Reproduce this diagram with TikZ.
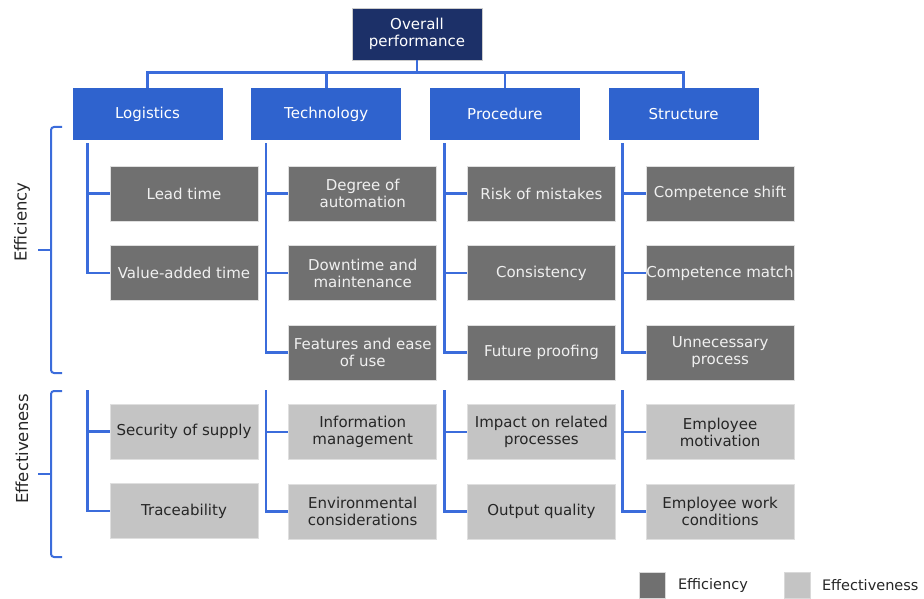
\documentclass[tikz,border=0pt]{standalone}
\usepackage{fontspec}
\setmainfont{DejaVu Sans}
\usepackage{tikz}
\usetikzlibrary{calc,positioning}
\definecolor{navy}{HTML}{1C3068}
\definecolor{catblue}{HTML}{2F63CE}
\definecolor{linkblue}{HTML}{3B6CDB}
\definecolor{effcgray}{HTML}{707070}
\definecolor{efftgray}{HTML}{C4C4C4}
\tikzstyle{overall}=[rectangle, fill=navy, draw=gray!40, line width=0.6pt,
                     text=white, minimum width=130pt, minimum height=52pt,
                     align=center, inner sep=0pt,
                     font=\fontsize{15}{17}\selectfont]
\tikzstyle{cat}    =[rectangle, fill=catblue, text=white,
                     minimum width=150pt, minimum height=52pt,
                     inner sep=0pt, font=\fontsize{15}{17}\selectfont]
\tikzstyle{effc}   =[rectangle, fill=effcgray, draw=gray!25, line width=0.8pt,
                     text=white!94!black, minimum width=148pt,
                     minimum height=55pt, align=center, inner sep=0pt,
                     font=\fontsize{15}{17}\selectfont]
\tikzstyle{efft}   =[effc, fill=efftgray, text=black!85]
\tikzstyle{link}   =[draw=linkblue, line width=2.6pt]
\tikzstyle{brace}  =[draw=linkblue, line width=2pt, rounded corners=3pt]
\tikzstyle{side}   =[inner sep=0pt, rotate=90, text=black!85,
                     font=\fontsize{16.5}{18}\selectfont]
\tikzstyle{legbox} =[rectangle, minimum size=26pt, inner sep=0pt,
                     draw=gray!30, line width=0.6pt]
\tikzstyle{legtext}=[inner sep=0pt, anchor=west, text=black!85,
                     font=\fontsize{14.5}{16}\selectfont]

\begin{document}
\begin{tikzpicture}[x=1pt, y=-1pt, on grid]
    \useasboundingbox (0,0) rectangle (924,599);
    % top of the tree
    \node[overall] (perf) at (417,34) {Overall\\performance};
    \node[cat] (log) at (147.5,114) {Logistics};
    \node[cat] (tech) [right=178.7pt of log] {Technology};
    \node[cat] (proc) [right=178.7pt of tech] {Procedure};
    \node[cat] (struct) [right=178.7pt of proc] {Structure};
    \draw[link] (perf.south) -- ++(0,12) coordinate (hub);
    \draw[link] (log.north) |- (hub) -| (struct.north);
    \draw[link] (tech.north) |- (hub);
    \draw[link] (proc.north) |- (hub);

    % logistics
    \node[effc] (lead) at (184,193.5) {Lead time};
    \node[effc] (vat) [below=79.5pt of lead] {Value-added time};
    \node[efft] (supply) [below=158.5pt of vat] {Security of supply};
    \node[efft] (trace) [below=79.5pt of supply] {Traceability};
    % technology
    \node[effc] (auto) [right=178.7pt of lead] {Degree of\\automation};
    \node[effc] (down) [below=79.5pt of auto] {Downtime and\\maintenance};
    \node[effc] (feat) [below=79.5pt of down] {Features and ease\\of use};
    \node[efft] (info) [below=79.5pt of feat] {Information\\management};
    \node[efft] (env) [below=79.5pt of info] {Environmental\\considerations};
    % procedure
    \node[effc] (risk) [right=178.7pt of auto] {Risk of mistakes};
    \node[effc] (cons) [below=79.5pt of risk] {Consistency};
    \node[effc] (future) [below=79.5pt of cons] {Future proofing};
    \node[efft] (impact) [below=79.5pt of future] {Impact on related\\processes};
    \node[efft] (output) [below=79.5pt of impact] {Output quality};
    % structure
    \node[effc] (shift) [right=178.7pt of risk] {Competence shift};
    \node[effc] (match) [below=79.5pt of shift] {Competence match};
    \node[effc] (unnec) [below=79.5pt of match] {Unnecessary\\process};
    \node[efft] (motiv) [below=79.5pt of unnec] {Employee\\motivation};
    \node[efft] (work) [below=79.5pt of motiv] {Employee work\\conditions};

    % connectors
    \coordinate (split) at (0,390);
    \coordinate (logs) at ($(log.south west)+(15,3)$);
    \coordinate (techs) at ($(tech.south west)+(15,3)$);
    \coordinate (procs) at ($(proc.south west)+(15,3)$);
    \coordinate (structs) at ($(struct.south west)+(14,3)$);
    \draw[link] (logs) |- (lead.west);
    \draw[link] (logs) |- (vat.west);
    \draw[link] (logs |- split) |- (supply.west);
    \draw[link] (logs |- split) |- (trace.west);
    \draw[link] (techs) |- (auto.west);
    \draw[link] (techs) |- (down.west);
    \draw[link] (techs) |- (feat.west);
    \draw[link] (techs |- split) |- (info.west);
    \draw[link] (techs |- split) |- (env.west);
    \draw[link] (procs) |- (risk.west);
    \draw[link] (procs) |- (cons.west);
    \draw[link] (procs) |- (future.west);
    \draw[link] (procs |- split) |- (impact.west);
    \draw[link] (procs |- split) |- (output.west);
    \draw[link] (structs) |- (shift.west);
    \draw[link] (structs) |- (match.west);
    \draw[link] (structs) |- (unnec.west);
    \draw[link] (structs |- split) |- (motiv.west);
    \draw[link] (structs |- split) |- (work.west);

    % brackets
    \draw[brace] (62,127) -- (51,127) -- (51,373) -- (62,373);
    \draw[brace] (51,250) -- (38,250);
    \draw[brace] (62,391) -- (51,391) -- (51,557) -- (62,557);
    \draw[brace] (51,474) -- (38,474);
    \node[side] (effclab) at (22,222) {Efficiency};
    \node[side] (efftlab) at (22,449) {Effectiveness};

    % legend
    \node[legbox, fill=effcgray] (legeffc) at (652.5,585.5) {};
    \node[legtext] (legeffctext) at ($(legeffc.east)+(12,0)$) {Efficiency};
    \node[legbox, fill=efftgray] (legefft) at (797.5,585.5) {};
    \node[legtext] (legeffttext) at ($(legefft.east)+(11,0)$) {Effectiveness};
\end{tikzpicture}
\end{document}
